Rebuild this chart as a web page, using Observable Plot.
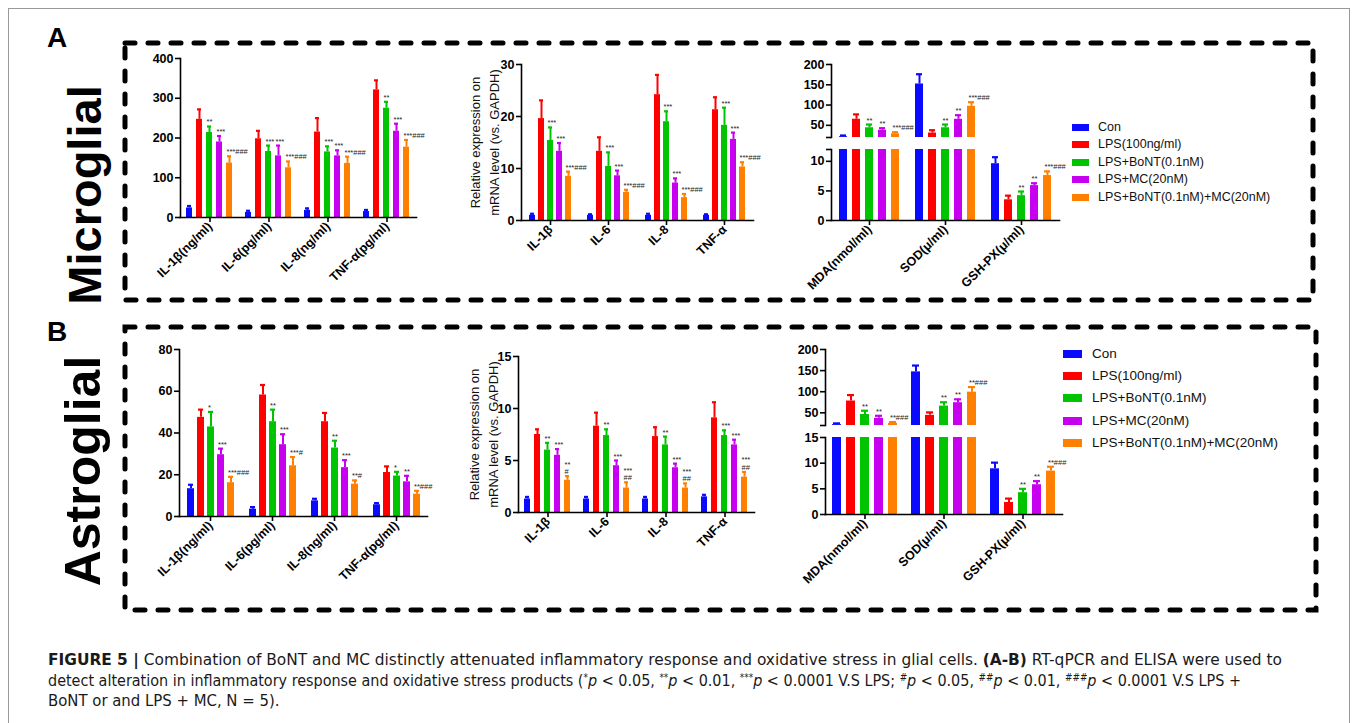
<!DOCTYPE html>
<html><head><meta charset="utf-8">
<script src="https://cdn.jsdelivr.net/npm/d3@7"></script>
<script src="https://cdn.jsdelivr.net/npm/@observablehq/plot@0.6"></script>
<style>
html,body{margin:0;padding:0;background:#fff;}
body{width:1356px;height:723px;position:relative;overflow:hidden;font-family:"Liberation Sans",Arial,sans-serif;}
#root{position:absolute;left:0;top:0;width:1356px;height:723px;}
.big{position:absolute;font-weight:bold;line-height:1;white-space:nowrap;color:#000;transform:translate(-50%,-50%) rotate(-90deg);}
.lab{position:absolute;font-weight:bold;line-height:1;color:#000;}
.cap{position:absolute;left:48px;font-family:"Liberation Sans Narrow","DejaVu Sans Condensed","Liberation Sans",sans-serif;font-size:16px;line-height:1;white-space:nowrap;color:#1a1a1a;transform-origin:0 0;}
.cap sup{font-size:0.62em;vertical-align:0.5em;line-height:0;}
</style></head><body>
<div id="root"></div>
<script>
// ---------- data ----------
const groups = ["Con","LPS(100ng/ml)","LPS+BoNT(0.1nM)","LPS+MC(20nM)","LPS+BoNT(0.1nM)+MC(20nM)"];
const colors = ["#0a0aff","#ff0000","#00c400","#c800f0","#ff8000"];

// A: Microglial, ELISA cytokines
const a1Cats = ["IL-1β(ng/ml)","IL-6(pg/ml)","IL-8(ng/ml)","TNF-α(pg/ml)"];
const a1Mean = [[24,247,214,190,137],[13,198,166,155,125],[18,215,165,155,136],[15,321,275,217,177]];
const a1Err  = [[5,25,15,15,17],[4,20,15,26,16],[5,35,14,14,17],[4,24,16,19,18]];
const a1Sig  = [["","","**","***","***###"],["","","***","***","***###"],["","","***","***","***###"],["","","**","***","***###"]];
const a1Ticks = [0,100,200,300,400];

// A: Microglial, mRNA
const a2Cats = ["IL-1β","IL-6","IL-8","TNF-α"];
const a2Mean = [[1.0,19.6,15.4,13.3,8.5],[1.0,13.3,10.4,8.6,5.4],[1.0,24.2,19.0,7.2,4.4],[1.0,21.3,18.3,15.6,10.3]];
const a2Err  = [[0.3,3.5,2.5,1.6,0.9],[0.2,2.7,2.7,1.0,0.5],[0.3,3.8,2.0,0.9,0.7],[0.2,2.4,3.4,1.3,0.9]];
const a2Sig  = [["","","***","***","***###"],["","","***","***","***###"],["","","***","***","***###"],["","","***","***","***###"]];
const a2Ticks = [0,10,20,30];

// A: Microglial, oxidative stress
const a3Cats = ["MDA(nmol/ml)","SOD(μ/ml)","GSH-PX(μ/ml)"];
const a3Mean = [[22,65,44,38,29],[152,31,44,65,97],[9.6,3.5,4.2,5.9,7.6]];
const a3Err  = [[3,12,8,5,4],[24,7,8,10,10],[1.1,0.7,0.7,0.4,0.7]];
const a3Sig  = [["","","**","**","***###"],["","","**","**","***###"],["","","**","**","***###"]];
const a3TopTicks = [50,100,150,200];
const a3BotTicks = [0,5,10];

// B: Astroglial, ELISA cytokines
const b1Cats = ["IL-1β(ng/ml)","IL-6(pg/ml)","IL-8(ng/ml)","TNF-α(pg/ml)"];
const b1Mean = [[13.3,47.5,42.9,29.6,16.2],[3.5,58.2,45.4,34.4,24.3],[7.5,45.4,32.8,23.4,15.5],[5.6,21.1,19.4,16.6,10.7]];
const b1Err  = [[1.9,3.7,7.2,2.9,2.8],[1.0,4.8,5.8,5.0,4.2],[1.0,4.2,3.5,3.6,1.8],[0.8,2.9,2.0,2.9,1.6]];
const b1Sig  = [["","","*","***","***###"],["","","**","***","***#"],["","","**","***","**#"],["","","*","**","**###"]];
const b1Ticks = [0,20,40,60,80];

// B: Astroglial, mRNA
const b2Cats = ["IL-1β","IL-6","IL-8","TNF-α"];
const b2Mean = [[1.3,7.5,6.0,5.5,3.1],[1.3,8.3,7.4,4.5,2.35],[1.3,7.3,6.5,4.3,2.35],[1.5,9.1,7.4,6.5,3.4]];
const b2Err  = [[0.2,0.5,0.7,0.6,0.4],[0.2,1.3,0.6,0.5,0.55],[0.2,0.9,0.8,0.4,0.45],[0.2,1.5,0.5,0.5,0.5]];
const b2Sig  = [["","","**","***","**\n#"],["","","**","***","***\n##"],["","","**","***","***\n##"],["","","***","***","***\n##"]];
const b2Ticks = [0,5,10,15];

// B: Astroglial, oxidative stress
const b3Cats = ["MDA(nmol/ml)","SOD(μ/ml)","GSH-PX(μ/ml)"];
const b3Mean = [[22,78,46,37,25],[147,44,66,74,99],[8.9,2.35,4.25,5.8,8.45]];
const b3Err  = [[3,14,9,6,3],[15,7,9,8,12],[1.2,0.75,0.75,0.7,0.85]];
const b3Sig  = [["","","**","**","**###"],["","","**","**","**###"],["","","**","**","**###"]];
const b3TopTicks = [50,100,150,200];
const b3BotTicks = [0,5,10,15];

const yLabelText = "Relative expression on\nmRNA level (vs. GAPDH)";

// ---------- drawing ----------
const root = document.getElementById("root");
function place(el, left, top){ el.style.position="absolute"; el.style.left=left+"px"; el.style.top=top+"px"; root.appendChild(el); }

function panel(o){
  const rows = [];
  o.cats.forEach((c,i)=>groups.forEach((g,j)=>rows.push({cat:c, grp:g, v:o.mean[i][j], hi:o.mean[i][j]+o.err[i][j], sig:o.sig[i][j]})));
  const clip = !!o.clip;
  const [lo, top] = o.yDomain;
  const inView = rows.filter(d=>d.sig && d.hi>=lo && d.hi<=top);
  const marks = [
    Plot.barY(rows,{fx:"cat",x:"grp",y1:0,y2:"v",fill:"grp",clip}),
    Plot.ruleX(rows,{fx:"cat",x:"grp",y1:"v",y2:"hi",stroke:"grp",strokeWidth:2,clip}),
    Plot.tickY(rows,{fx:"cat",x:"grp",y:"hi",stroke:"grp",strokeWidth:2.2,insetLeft:1,insetRight:1,clip}),
    Plot.text(inView,{fx:"cat",x:"grp",y:"hi",text:"sig",dx:-3,dy:-2,textAnchor:"start",lineAnchor:"bottom",fontSize:7.5,fontWeight:"normal",fill:"#222"}),
    Plot.frame({anchor:"left",facet:"super",stroke:"#000",strokeWidth:1.6}),
    Plot.axisY({ticks:o.yTicks,tickSize:5,tickPadding:2,tickFormat:d=>d,label:null,fontSize:12.5,fontWeight:"bold",strokeWidth:1.6})
  ];
  if (o.breakTick!=null) marks.push(Plot.axisY({ticks:[o.breakTick],tickSize:5,tickFormat:()=>"",label:null,strokeWidth:1.6}));
  if (o.showX) marks.push(
    Plot.frame({anchor:"bottom",facet:"super",stroke:"#000",strokeWidth:1.6}),
    Plot.axisFx({anchor:"bottom",tickRotate:-45,tickSize:5,tickPadding:2,label:null,fontSize:12.5,fontWeight:"bold",strokeWidth:1.6})
  );
  if (o.yLabel) marks.push(Plot.text([o.yLabel],{facet:"super",frameAnchor:"left",rotate:-90,dx:-o.labelOffset,lineAnchor:"top",lineHeight:1.45,textAnchor:"middle",fontSize:13,fontWeight:"normal",fill:"#111"}));
  const svg = Plot.plot({
    width:o.mL+o.fw+o.mR, height:o.mT+o.fh+o.mB,
    marginLeft:o.mL, marginRight:o.mR, marginTop:o.mT, marginBottom:o.mB,
    style:{background:"transparent",overflow:"visible",fontFamily:"'Liberation Sans', Arial, sans-serif",color:"#000"},
    fx:{domain:o.cats,padding:0,label:null,axis:o.showX?undefined:null},
    x:{domain:groups,paddingInner:o.pi,paddingOuter:o.po,axis:null},
    y:{domain:o.yDomain,label:null},
    color:{domain:groups,range:colors},
    marks
  });
  place(svg, o.x0-o.mL, o.y0-o.mT);
}

// Panel A
panel({cats:a1Cats,mean:a1Mean,err:a1Err,sig:a1Sig,yDomain:[0,400],yTicks:a1Ticks,showX:true,
  x0:178,y0:58,fw:239,fh:159,mL:40,mT:12,mR:12,mB:80,pi:0.36,po:0.4});
panel({cats:a2Cats,mean:a2Mean,err:a2Err,sig:a2Sig,yDomain:[0,30],yTicks:a2Ticks,showX:true,yLabel:yLabelText,labelOffset:55,
  x0:520,y0:64,fw:234,fh:156,mL:70,mT:12,mR:12,mB:80,pi:0.3,po:0.57});
panel({cats:a3Cats,mean:a3Mean,err:a3Err,sig:a3Sig,yDomain:[20,200],yTicks:a3TopTicks,breakTick:20,showX:false,clip:true,
  x0:830,y0:64,fw:230,fh:73,mL:40,mT:12,mR:12,mB:0,pi:0.36,po:0.42});
panel({cats:a3Cats,mean:a3Mean,err:a3Err,sig:a3Sig,yDomain:[0,12],yTicks:a3BotTicks,breakTick:12,showX:true,clip:true,
  x0:830,y0:149,fw:230,fh:71,mL:40,mT:12,mR:12,mB:80,pi:0.36,po:0.42});

// Panel B
panel({cats:b1Cats,mean:b1Mean,err:b1Err,sig:b1Sig,yDomain:[0,80],yTicks:b1Ticks,showX:true,
  x0:178,y0:349,fw:249,fh:167,mL:40,mT:12,mR:12,mB:80,pi:0.34,po:0.58});
panel({cats:b2Cats,mean:b2Mean,err:b2Err,sig:b2Sig,yDomain:[0,15],yTicks:b2Ticks,showX:true,yLabel:yLabelText,labelOffset:53,
  x0:517,y0:356,fw:238,fh:156,mL:70,mT:12,mR:12,mB:80,pi:0.39,po:0.4});
panel({cats:b3Cats,mean:b3Mean,err:b3Err,sig:b3Sig,yDomain:[20,200],yTicks:b3TopTicks,breakTick:20,showX:false,clip:true,
  x0:824,y0:349,fw:239,fh:76,mL:40,mT:12,mR:12,mB:0,pi:0.37,po:0.4});
panel({cats:b3Cats,mean:b3Mean,err:b3Err,sig:b3Sig,yDomain:[0,15],yTicks:b3BotTicks,showX:true,clip:true,
  x0:824,y0:437,fw:239,fh:77,mL:40,mT:12,mR:12,mB:80,pi:0.37,po:0.4});

// Legends
function legend(x, tx, cy0, step, sw, sh, fs){
  groups.forEach((g,i)=>{
    const cy = cy0 + i*step;
    const sq = document.createElement("div");
    sq.style.cssText = `width:${sw}px;height:${sh}px;background:${colors[i]};`;
    place(sq, x, cy - sh/2);
    const t = document.createElement("div");
    t.textContent = g;
    t.style.cssText = `font-size:${fs}px;line-height:1;white-space:nowrap;color:#111;`;
    place(t, tx, cy - fs*0.52);
  });
}
legend(1072, 1098, 127, 17.6, 17, 7, 12.5);
legend(1063, 1092, 354, 22.2, 19, 8, 13.5);

// Frame decorations
const NS = "http://www.w3.org/2000/svg";
const deco = document.createElementNS(NS,"svg");
deco.setAttribute("width",1356); deco.setAttribute("height",723);
deco.style.cssText="position:absolute;left:0;top:0;pointer-events:none;";
function rect(x,y,w,h,attrs){ const r=document.createElementNS(NS,"rect"); r.setAttribute("x",x);r.setAttribute("y",y);r.setAttribute("width",w);r.setAttribute("height",h); for(const k in attrs) r.setAttribute(k,attrs[k]); deco.appendChild(r); }
rect(8.5,8.5,1341,760,{fill:"none",stroke:"#999","stroke-width":1});
const dash = {fill:"none",stroke:"#000","stroke-width":5,"stroke-dasharray":"10 13","stroke-linecap":"round"};
rect(125,43,1188,257,dash);
rect(125,327,1191,283,dash);
root.appendChild(deco);

// Labels
function label(cls, text, left, top, fs){ const d=document.createElement("div"); d.className=cls; d.textContent=text; d.style.fontSize=fs+"px"; place(d,left,top); return d; }
label("lab","A",47,24,28);
label("lab","B",47,318,28);
label("big","Microglial",84,195,47);
label("big","Astroglial",83,471,50);

// Caption
const capLines = [
  '<b>FIGURE 5 |</b> Combination of BoNT and MC distinctly attenuated inflammatory response and oxidative stress in glial cells. <b>(A-B)</b> RT-qPCR and ELISA were used to',
  'detect alteration in inflammatory response and oxidative stress products (<sup>*</sup><i>p</i> &lt; 0.05, <sup>**</sup><i>p</i> &lt; 0.01, <sup>***</sup><i>p</i> &lt; 0.0001 V.S LPS; <sup>#</sup><i>p</i> &lt; 0.05, <sup>##</sup><i>p</i> &lt; 0.01, <sup>###</sup><i>p</i> &lt; 0.0001 V.S LPS +',
  'BoNT or and LPS + MC, N = 5).'
];
const capTops = [652,673,693];
const capTargets = [1234,1193,null];
const capEls = capLines.map((h,i)=>{ const d=document.createElement("div"); d.className="cap"; d.innerHTML=h; place(d,48,capTops[i]); return d; });
function fitCaption(){
  const s0 = capTargets[0]/capEls[0].getBoundingClientRect().width;
  const s1 = capTargets[1]/capEls[1].getBoundingClientRect().width;
  capEls[0].style.transform=`scaleX(${s0})`;
  capEls[1].style.transform=`scaleX(${s1})`;
  capEls[2].style.transform=`scaleX(${(s0+s1)/2})`;
}
fitCaption();
</script>
</body></html>
